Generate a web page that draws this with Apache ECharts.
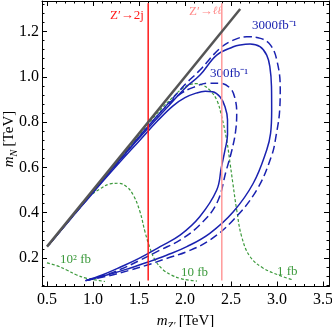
<!DOCTYPE html>
<html>
<head>
<meta charset="utf-8">
<script src="https://cdn.jsdelivr.net/npm/echarts@6/dist/echarts.min.js"></script>
<style>
  html, body { margin: 0; padding: 0; background: #fff; }
  #chart { width: 332px; height: 327px; }
</style>
</head>
<body>
<div id="chart"></div>
<script>
// tick values
const xMajor = [0.5, 1.0, 1.5, 2.0, 2.5, 3.0, 3.5]
const xMinor = [0.6, 0.7, 0.8, 0.9, 1.1, 1.2, 1.3, 1.4, 1.6, 1.7, 1.8, 1.9, 2.1, 2.2, 2.3, 2.4, 2.6, 2.7, 2.8, 2.9, 3.1, 3.2, 3.3, 3.4]
const yMajor = [0.2, 0.4, 0.6, 0.8, 1.0, 1.2]
const yMinor = [0.08, 0.12, 0.16, 0.24, 0.28, 0.32, 0.36, 0.44, 0.48, 0.52, 0.56, 0.64, 0.68, 0.72, 0.76, 0.84, 0.88, 0.92, 0.96, 1.04, 1.08, 1.12, 1.16, 1.24, 1.28, 1.32]

// kinematic limit m_N = m_Z'/2
const kinLimit = [[0.5, 0.25], [2.6, 1.3]]
// dijet / dilepton exclusion lines
const dijetLine = [[1.6, 0.1], [1.6, 1.325]]
const dilepLine = [[2.4, 0.1], [2.4, 1.325]]

// reach contours, 300 fb^-1 and 3000 fb^-1 (solid / dashed)
const reach300Solid = [[0.92, 0.10], [1.1, 0.125], [1.3, 0.16], [1.5, 0.198], [1.73, 0.25], [1.95, 0.302], [2.16, 0.382], [2.345, 0.50], [2.395, 0.60], [2.435, 0.677], [2.462, 0.745], [2.462, 0.81], [2.435, 0.868], [2.38, 0.912], [2.30, 0.934], [2.22, 0.936], [2.12, 0.928], [2.0, 0.908], [1.87, 0.872], [1.7, 0.805], [1.5, 0.716], [1.3, 0.627], [1.1, 0.535], [0.9, 0.44], [0.7, 0.345], [0.52, 0.258]]
const reach300Dashed = [[0.92, 0.10], [1.1, 0.12], [1.3, 0.15], [1.5, 0.188], [1.73, 0.235], [1.95, 0.28], [2.16, 0.346], [2.345, 0.441], [2.45, 0.589], [2.51, 0.677], [2.55, 0.76], [2.562, 0.84], [2.54, 0.91], [2.49, 0.95], [2.38, 0.972], [2.25, 0.972], [2.1, 0.955], [1.95, 0.925], [1.8, 0.872], [1.6, 0.782], [1.4, 0.684], [1.2, 0.587], [1.0, 0.49], [0.8, 0.394], [0.6, 0.297], [0.52, 0.258]]
const reach3000Solid = [[0.92, 0.10], [1.2, 0.13], [1.4, 0.155], [1.6, 0.182], [1.8, 0.212], [2.02, 0.25], [2.27, 0.309], [2.525, 0.404], [2.742, 0.53], [2.888, 0.677], [2.93, 0.75], [2.942, 0.853], [2.94, 0.956], [2.922, 1.045], [2.888, 1.096], [2.815, 1.133], [2.707, 1.145], [2.6, 1.141], [2.525, 1.133], [2.345, 1.096], [2.163, 1.008], [2.0, 0.95], [1.8, 0.862], [1.6, 0.774], [1.4, 0.684], [1.2, 0.59], [1.0, 0.494], [0.8, 0.396], [0.6, 0.297], [0.52, 0.258]]
const reach3000Dashed = [[0.92, 0.10], [1.2, 0.124], [1.4, 0.146], [1.6, 0.17], [1.8, 0.198], [2.02, 0.228], [2.27, 0.279], [2.525, 0.368], [2.779, 0.50], [2.94, 0.65], [2.99, 0.74], [3.03, 0.86], [3.035, 0.95], [3.0, 1.07], [2.93, 1.14], [2.82, 1.17], [2.67, 1.177], [2.525, 1.162], [2.38, 1.126], [2.163, 1.03], [2.0, 0.966], [1.8, 0.874], [1.6, 0.782], [1.4, 0.688], [1.2, 0.592], [1.0, 0.495], [0.8, 0.397], [0.6, 0.298], [0.52, 0.258]]

// cross section contours
const xsec100fb = [[0.5, 0.178], [0.605, 0.166], [0.714, 0.147], [0.823, 0.125], [0.932, 0.11], [1.04, 0.102], [1.13, 0.096]]
const xsec10fb = [[0.95, 0.47], [1.076, 0.505], [1.185, 0.527], [1.275, 0.530], [1.366, 0.515], [1.438, 0.478], [1.511, 0.404], [1.565, 0.316], [1.62, 0.243], [1.674, 0.191], [1.764, 0.147], [1.85, 0.125], [1.946, 0.11], [2.04, 0.102], [2.13, 0.098]]
const xsec1fb = [[1.0, 0.494], [1.3, 0.643], [1.6, 0.792], [1.75, 0.862], [1.873, 0.912], [1.97, 0.948], [2.054, 0.966], [2.12, 0.97], [2.2, 0.962], [2.272, 0.94], [2.345, 0.898], [2.399, 0.824], [2.453, 0.721], [2.49, 0.618], [2.52, 0.53], [2.562, 0.412], [2.616, 0.294], [2.707, 0.206], [2.851, 0.155], [3.033, 0.122], [3.16, 0.105]]

const xMin = 0.446
const xMax = 3.565
const yMin = 0.074
const yMax = 1.335

const serif = 'Liberation Serif'
const blue = '#1a22b0'
const green = '#3c9a3c'

function tickAxis(position, min, max, values, len, withLine) {
  return {
    type: 'value',
    position: position,
    min: min,
    max: max,
    axisLine: { show: withLine, onZero: false, lineStyle: { color: '#000', width: 1 } },
    axisTick: { show: true, inside: true, length: len, customValues: values, lineStyle: { color: '#000', width: 1 } },
    axisLabel: { show: false },
    splitLine: { show: false }
  }
}

const chart = echarts.init(document.getElementById('chart'))

const nameRich = {
  i: { fontFamily: serif, fontStyle: 'italic', fontSize: 15, color: '#000', lineHeight: 20 },
  s: { fontFamily: serif, fontStyle: 'italic', fontSize: 10, color: '#000', lineHeight: 10, verticalAlign: 'bottom' },
  n: { fontFamily: serif, fontSize: 15, color: '#000', lineHeight: 20 }
}

const xLabelAxis = tickAxis('bottom', xMin, xMax, xMajor, 5, true)
xLabelAxis.axisLabel = {
  show: true,
  customValues: xMajor,
  formatter: function(v) { return v.toFixed(1) },
  fontFamily: serif,
  fontSize: 16,
  color: '#000',
  margin: 5
}
xLabelAxis.name = '{i|m}{s|Z′} {n|[TeV]}'
xLabelAxis.nameLocation = 'middle'
xLabelAxis.nameGap = 25
xLabelAxis.nameTextStyle = { rich: nameRich }

const yLabelAxis = tickAxis('left', yMin, yMax, yMajor, 5, true)
yLabelAxis.axisLabel = {
  show: true,
  customValues: yMajor,
  formatter: function(v) { return v.toFixed(1) },
  fontFamily: serif,
  fontSize: 16,
  color: '#000',
  margin: 3
}

function lineSeries(data, color, width, type, smooth, z) {
  return {
    type: 'line',
    data: data,
    showSymbol: false,
    symbol: 'none',
    smooth: smooth,
    silent: true,
    animation: false,
    z: z,
    lineStyle: { color: color, width: width, type: type }
  }
}

function label(text, left, top, color, rich) {
  return {
    type: 'text',
    left: left,
    top: top,
    silent: true,
    style: { text: text, fill: color, fontFamily: serif, fontSize: 13, rich: rich }
  }
}

chart.setOption({
  animation: false,
  grid: { left: 42, top: 1, width: 287, height: 285.5, containLabel: false, outerBoundsMode: 'none' },
  xAxis: [
    xLabelAxis,
    tickAxis('bottom', xMin, xMax, xMinor, 2.5, false),
    tickAxis('top', xMin, xMax, xMajor, 5, true),
    tickAxis('top', xMin, xMax, xMinor, 2.5, false)
  ],
  yAxis: [
    yLabelAxis,
    tickAxis('left', yMin, yMax, yMinor, 2.5, false),
    tickAxis('right', yMin, yMax, yMajor, 5, true),
    tickAxis('right', yMin, yMax, yMinor, 2.5, false)
  ],
  series: [
    lineSeries(xsec100fb, green, 1.2, [3, 2], 0.4, 2),
    lineSeries(xsec10fb, green, 1.2, [3, 2], 0.4, 2),
    lineSeries(xsec1fb, green, 1.2, [3, 2], 0.4, 2),
    lineSeries(reach300Solid, blue, 1.5, 'solid', 0.4, 3),
    lineSeries(reach300Dashed, blue, 1.5, [8, 4], 0.4, 3),
    lineSeries(reach3000Solid, blue, 1.5, 'solid', 0.4, 3),
    lineSeries(reach3000Dashed, blue, 1.5, [8, 4], 0.4, 3),
    lineSeries(dijetLine, '#ff1a1a', 1.5, 'solid', false, 4),
    lineSeries(dilepLine, '#ff9a9a', 1.5, 'solid', false, 4),
    lineSeries(kinLimit, '#555555', 2.5, 'solid', false, 5)
  ],
  graphic: [
    {
      type: 'text',
      x: 9,
      y: 139,
      rotation: Math.PI / 2,
      silent: true,
      style: { text: '{i|m}{s|N} {n|[TeV]}', rich: nameRich, align: 'center', verticalAlign: 'middle' }
    },
    label('Z′→2j', 110, 9, '#ff1a1a'),
    label('{a|Z′→}{l|ℓℓ}', 189, 5, '#ff8a8a', {
      a: { fontFamily: serif, fontSize: 13, color: '#ff8a8a' },
      l: { fontFamily: 'DejaVu Serif', fontStyle: 'italic', fontSize: 11, color: '#ff8a8a' }
    }),
    label('3000fb⁻¹', 252, 19, blue),
    label('300fb⁻¹', 210, 67, blue),
    label('10² fb', 60, 253, green),
    label('10 fb', 181, 266, green),
    label('1 fb', 277, 265, green)
  ]
})
</script>
</body>
</html>
